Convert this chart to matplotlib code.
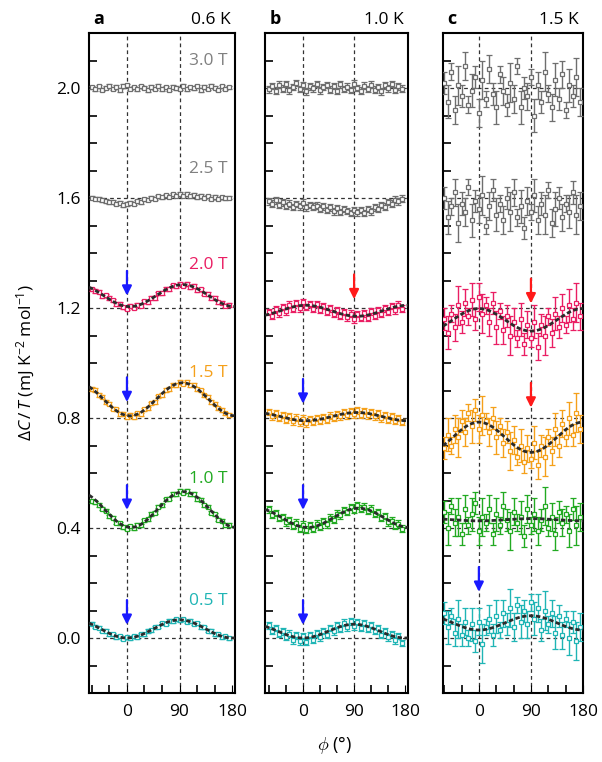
import numpy as np
import matplotlib
matplotlib.use("Agg")
import matplotlib.pyplot as plt

plt.rcParams['font.family'] = ['Open Sans', 'DejaVu Sans']
plt.rcParams['mathtext.fontset'] = 'custom'
plt.rcParams['mathtext.rm'] = 'Open Sans'
plt.rcParams['mathtext.it'] = 'Open Sans:italic'
plt.rcParams['mathtext.bf'] = 'Open Sans:bold'

# angle grid of the measured points (deg)
phi = [-60, -54, -48, -42, -36, -30, -24, -18, -12, -6, 0, 6, 12, 18, 24, 30, 36, 42, 48, 54,
       60, 66, 72, 78, 84, 90, 96, 102, 108, 114, 120, 126, 132, 138, 144, 150, 156, 162, 168, 174]

fields = ['3.0 T', '2.5 T', '2.0 T', '1.5 T', '1.0 T', '0.5 T']
field_colors = ['#6e6e6e', '#6e6e6e', '#ea1e63', '#f5a01a', '#22aa22', '#1fb5b5']
label_colors = ['#808080', '#808080', '#ea1e63', '#f5a01a', '#22aa22', '#1fb5b5']
label_y = [2.098, 1.705, 1.355, 0.965, 0.579, 0.135]

# ---- panel a : 0.6 K ----
a30 = [2.003, 1.996, 2.006, 1.994, 2.001, 2.008, 1.997, 2.004, 1.992, 2.007, 2.010, 1.998, 2.003, 1.995,
       2.006, 2.001, 1.993, 2.004, 1.998, 2.009, 1.996, 2.002, 1.994, 2.005, 2.000, 1.997, 2.007, 1.995,
       2.003, 1.999, 2.006, 1.993, 2.004, 1.998, 2.008, 2.001, 1.994, 2.006, 1.997, 2.003]
a25 = [1.601, 1.597, 1.596, 1.592, 1.589, 1.584, 1.587, 1.579, 1.582, 1.575, 1.578, 1.583, 1.580, 1.588,
       1.586, 1.595, 1.594, 1.601, 1.598, 1.606, 1.603, 1.610, 1.605, 1.613, 1.608, 1.614, 1.609, 1.615,
       1.606, 1.611, 1.604, 1.609, 1.601, 1.606, 1.598, 1.604, 1.597, 1.603, 1.599, 1.601]
a20 = [1.268, 1.262, 1.259, 1.244, 1.246, 1.236, 1.228, 1.214, 1.216, 1.203, 1.198, 1.209, 1.201, 1.212,
       1.209, 1.224, 1.222, 1.238, 1.236, 1.253, 1.255, 1.270, 1.268, 1.282, 1.279, 1.289, 1.281, 1.287,
       1.276, 1.280, 1.266, 1.268, 1.252, 1.251, 1.236, 1.237, 1.221, 1.220, 1.209, 1.211]
a15 = [0.905, 0.902, 0.884, 0.878, 0.858, 0.852, 0.834, 0.831, 0.815, 0.816, 0.804, 0.812, 0.803, 0.817,
       0.814, 0.832, 0.835, 0.853, 0.858, 0.879, 0.884, 0.902, 0.905, 0.921, 0.919, 0.931, 0.925, 0.932,
       0.919, 0.921, 0.904, 0.901, 0.883, 0.878, 0.858, 0.852, 0.835, 0.829, 0.817, 0.811]
a10 = [0.497, 0.494, 0.484, 0.470, 0.463, 0.443, 0.438, 0.420, 0.417, 0.404, 0.398, 0.406, 0.399, 0.411,
       0.410, 0.428, 0.431, 0.451, 0.456, 0.478, 0.483, 0.504, 0.507, 0.524, 0.522, 0.535, 0.529, 0.536,
       0.522, 0.524, 0.506, 0.503, 0.483, 0.478, 0.456, 0.450, 0.430, 0.427, 0.410, 0.411]
a05 = [0.052, 0.041, 0.038, 0.027, 0.025, 0.014, 0.013, 0.004, 0.006, -0.002, 0.003, -0.001, 0.006, 0.004,
       0.014, 0.013, 0.026, 0.028, 0.039, 0.041, 0.053, 0.052, 0.063, 0.061, 0.068, 0.064, 0.068, 0.060,
       0.062, 0.052, 0.053, 0.040, 0.039, 0.027, 0.026, 0.013, 0.014, 0.004, 0.006, -0.001]

# ---- panel b : 1.0 K ----
b30 = [1.995, 2.008, 1.990, 2.012, 1.998, 2.015, 1.992, 2.004, 2.018, 1.996, 2.010, 1.988, 2.006, 1.999,
       2.014, 1.991, 2.003, 2.011, 1.994, 2.007, 1.989, 2.013, 1.997, 2.005, 1.993, 2.016, 2.000, 1.990,
       2.009, 1.996, 2.012, 1.994, 2.004, 1.988, 2.010, 1.999, 2.015, 1.993, 2.006, 1.998]
b25 = [1.588, 1.579, 1.592, 1.575, 1.584, 1.571, 1.580, 1.568, 1.578, 1.570, 1.583, 1.566, 1.575, 1.569,
       1.572, 1.561, 1.570, 1.557, 1.566, 1.552, 1.563, 1.549, 1.560, 1.553, 1.545, 1.557, 1.548, 1.556,
       1.545, 1.560, 1.551, 1.566, 1.560, 1.575, 1.569, 1.585, 1.580, 1.594, 1.588, 1.598]
b20 = [1.185, 1.172, 1.195, 1.181, 1.203, 1.188, 1.212, 1.196, 1.218, 1.199, 1.221, 1.203, 1.215, 1.197,
       1.214, 1.193, 1.208, 1.186, 1.199, 1.179, 1.192, 1.171, 1.185, 1.166, 1.180, 1.159, 1.178, 1.163,
       1.181, 1.165, 1.188, 1.172, 1.193, 1.180, 1.199, 1.186, 1.207, 1.192, 1.212, 1.198]
b15 = [0.822, 0.806, 0.817, 0.800, 0.811, 0.794, 0.806, 0.788, 0.801, 0.784, 0.798, 0.781, 0.797, 0.786,
       0.800, 0.789, 0.804, 0.793, 0.809, 0.800, 0.815, 0.806, 0.822, 0.810, 0.826, 0.813, 0.828, 0.812,
       0.825, 0.810, 0.822, 0.806, 0.817, 0.799, 0.811, 0.794, 0.806, 0.789, 0.800, 0.786]
b10 = [0.468, 0.449, 0.455, 0.436, 0.440, 0.421, 0.428, 0.409, 0.420, 0.398, 0.412, 0.394, 0.410, 0.397,
       0.416, 0.405, 0.425, 0.413, 0.438, 0.430, 0.452, 0.446, 0.466, 0.458, 0.476, 0.466, 0.482, 0.470,
       0.478, 0.462, 0.470, 0.451, 0.458, 0.436, 0.443, 0.421, 0.427, 0.408, 0.416, 0.398]
b05 = [0.046, 0.027, 0.036, 0.015, 0.024, 0.004, 0.016, -0.008, 0.010, -0.012, 0.008, -0.015, 0.011, -0.006,
       0.017, 0.002, 0.026, 0.012, 0.036, 0.024, 0.047, 0.033, 0.056, 0.039, 0.061, 0.042, 0.058, 0.038,
       0.054, 0.033, 0.047, 0.025, 0.036, 0.012, 0.025, 0.002, 0.014, -0.008, 0.007, -0.018]

# ---- panel c : 1.5 K ----
c30 = [2.02, 1.95, 2.06, 1.92, 2.01, 1.97, 2.08, 1.94, 1.99, 2.04, 1.91, 2.03, 1.96, 2.07, 1.98, 1.93,
       2.05, 1.99, 1.94, 2.02, 1.96, 2.08, 1.93, 2.00, 1.97, 2.04, 1.90, 2.01, 1.95, 2.06, 1.98, 1.93,
       2.03, 1.96, 2.05, 1.92, 2.01, 1.97, 2.04, 1.95]
c25 = [1.60, 1.53, 1.57, 1.62, 1.51, 1.58, 1.55, 1.64, 1.52, 1.59, 1.56, 1.61, 1.50, 1.57, 1.63, 1.54,
       1.58, 1.52, 1.60, 1.55, 1.62, 1.53, 1.57, 1.49, 1.59, 1.55, 1.61, 1.52, 1.58, 1.54, 1.63, 1.51,
       1.56, 1.60, 1.53, 1.58, 1.55, 1.62, 1.54, 1.57]
c20 = [1.16, 1.11, 1.18, 1.13, 1.21, 1.15, 1.22, 1.17, 1.23, 1.16, 1.24, 1.18, 1.21, 1.15, 1.22, 1.13,
       1.19, 1.12, 1.17, 1.10, 1.15, 1.09, 1.16, 1.07, 1.14, 1.09, 1.15, 1.06, 1.14, 1.10, 1.17, 1.11,
       1.18, 1.13, 1.20, 1.14, 1.21, 1.16, 1.22, 1.17]
c15 = [0.69, 0.74, 0.70, 0.76, 0.73, 0.79, 0.75, 0.82, 0.77, 0.83, 0.76, 0.81, 0.79, 0.75, 0.80, 0.73,
       0.77, 0.71, 0.75, 0.68, 0.72, 0.66, 0.70, 0.64, 0.69, 0.65, 0.71, 0.63, 0.70, 0.66, 0.73, 0.68,
       0.76, 0.70, 0.78, 0.73, 0.80, 0.74, 0.82, 0.76]
c10 = [0.46, 0.40, 0.48, 0.42, 0.44, 0.38, 0.47, 0.41, 0.45, 0.49, 0.39, 0.44, 0.42, 0.47, 0.38, 0.45,
       0.41, 0.48, 0.43, 0.39, 0.46, 0.42, 0.44, 0.37, 0.47, 0.41, 0.45, 0.39, 0.43, 0.48, 0.40, 0.44,
       0.38, 0.46, 0.42, 0.45, 0.39, 0.47, 0.41, 0.44]
c05 = [0.09, 0.04, 0.08, 0.02, 0.07, 0.01, 0.06, 0.00, 0.05, -0.01, 0.06, -0.02, 0.04, 0.07, 0.01, 0.08,
       0.03, 0.09, 0.05, 0.11, 0.04, 0.12, 0.06, 0.10, 0.05, 0.13, 0.07, 0.11, 0.03, 0.10, 0.05, 0.09,
       0.02, 0.08, 0.01, 0.07, 0.00, 0.06, -0.01, 0.04]

# error bars
err_a = 0.006
err_b = 0.012
err_c = [0.04, 0.06, 0.03, 0.05, 0.07, 0.04, 0.05, 0.03, 0.06, 0.04, 0.05, 0.07, 0.03, 0.05, 0.04, 0.06,
         0.03, 0.05, 0.04, 0.07, 0.05, 0.03, 0.06, 0.04, 0.05, 0.03, 0.06, 0.05, 0.04, 0.07, 0.03, 0.05,
         0.06, 0.04, 0.05, 0.03, 0.06, 0.04, 0.07, 0.05]

# sinusoidal fits: (offset, amplitude, angle of minimum) for 2.0, 1.5, 1.0, 0.5 T
fit_a = [(1.245, 0.040, 5), (0.868, 0.060, 5), (0.467, 0.065, 7), (0.033, 0.033, 0)]
fit_b = [(1.190, 0.020, 95), (0.805, 0.015, 5), (0.437, 0.035, 8), (0.025, 0.025, 0)]
fit_c = [(1.157, 0.041, 90), (0.730, 0.055, 90), (0.430, 0.004, 0), (0.055, 0.026, 0)]

# arrows: (phi, tip value, colour)
arrows_a = [(0, 1.245, 'b'), (0, 0.858, 'b'), (0, 0.466, 'b'), (0, 0.048, 'b')]
arrows_b = [(90, 1.232, 'r'), (0, 0.852, 'b'), (0, 0.466, 'b'), (0, 0.048, 'b')]
arrows_c = [(90, 1.217, 'r'), (90, 0.838, 'r'), (0, 0.168, 'b')]
arrow_cols = {'b': '#1a1aff', 'r': '#ff1a1a'}

panels = [
    dict(letter='a', temp='0.6 K', data=[a30, a25, a20, a15, a10, a05], err=err_a, fits=fit_a,
         arrows=arrows_a, rect=[89, 235], xlim=(-65, 185)),
    dict(letter='b', temp='1.0 K', data=[b30, b25, b20, b15, b10, b05], err=err_b, fits=fit_b,
         arrows=arrows_b, rect=[265, 408], xlim=(-67, 185)),
    dict(letter='c', temp='1.5 K', data=[c30, c25, c20, c15, c10, c05], err=err_c, fits=fit_c,
         arrows=arrows_c, rect=[443, 583], xlim=(-62, 180)),
]

W, H = 602, 762
fig = plt.figure(figsize=(W / 100, H / 100), dpi=100)
top_px, bot_px = 33, 693

for k, p in enumerate(panels):
    x0, x1 = p['rect']
    ax = fig.add_axes([x0 / W, 1 - bot_px / H, (x1 - x0) / W, (bot_px - top_px) / H])
    ax.set_xlim(*p['xlim'])
    ax.set_ylim(-0.2, 2.2)

    # dashed guide lines
    for yv in [0.0, 0.4, 0.8, 1.2, 1.6, 2.0]:
        ax.axhline(yv, color='#333333', lw=0.9, ls=(0, (3, 2.5)), zorder=1)
    for xv in [0, 90]:
        ax.axvline(xv, color='#333333', lw=0.9, ls=(0, (3, 2.5)), zorder=1)

    for vals, col in zip(p['data'], field_colors):
        ax.errorbar(phi, vals, yerr=p['err'], fmt='s', ms=3.2, mfc='white', mec=col, mew=0.9,
                    ecolor=col, elinewidth=1.0, capsize=2.2, capthick=1.0, zorder=3)

    phi_fit = np.linspace(p['xlim'][0], p['xlim'][1], 300)
    for c0, amp, pmin in p['fits']:
        ax.plot(phi_fit, c0 - amp * np.cos(np.radians(2 * (phi_fit - pmin))), color='#2a2a2a',
                lw=2.0, ls=(0, (1.6, 0.9)), zorder=4)

    for xa, tip, cc in p['arrows']:
        ax.annotate('', xy=(xa, tip), xytext=(xa, tip + 0.09),
                    arrowprops=dict(arrowstyle='-|>', color=arrow_cols[cc], lw=1.6,
                                    mutation_scale=14, shrinkA=0, shrinkB=0), zorder=5)

    ax.set_xticks([0, 90, 180])
    ax.set_xticks([-60, -30, 30, 60, 120, 150], minor=True)
    ax.set_yticks([0.0, 0.4, 0.8, 1.2, 1.6, 2.0])
    ax.set_yticks([-0.1, 0.1, 0.2, 0.3, 0.5, 0.6, 0.7, 0.9, 1.0, 1.1, 1.3, 1.4, 1.5,
                   1.7, 1.8, 1.9, 2.1], minor=True)
    ax.tick_params(which='both', direction='in', top=False, right=False, labelsize=12.5)
    ax.tick_params(which='major', length=0, pad=6)
    ax.tick_params(axis='x', which='major', length=6, pad=8)
    ax.tick_params(which='minor', length=6, width=1.2)
    if k == 0:
        ax.set_yticklabels(['0.0', '0.4', '0.8', '1.2', '1.6', '2.0'])
    else:
        ax.set_yticklabels([])
    for s in ax.spines.values():
        s.set_linewidth(1.5)

    ax.text(0.03, 1.008, p['letter'], transform=ax.transAxes, fontsize=13, fontweight='bold',
            ha='left', va='bottom')
    ax.text(0.97, 1.008, p['temp'], transform=ax.transAxes, fontsize=12.5, ha='right', va='bottom')

    if k == 0:
        for lab, ly, lc in zip(fields, label_y, label_colors):
            ax.text(172, ly, lab, color=lc, fontsize=12.5, ha='right', va='center', zorder=6)
        ax.set_ylabel(r'$\Delta C\,/\,T$ (mJ K$^{-2}$ mol$^{-1}$)', fontsize=12.5, labelpad=14)

fig.text(335 / W, 1 - 745 / H, r'$\phi$ (°)', fontsize=13, ha='center', va='center')

fig.savefig('out.png', dpi=100)
